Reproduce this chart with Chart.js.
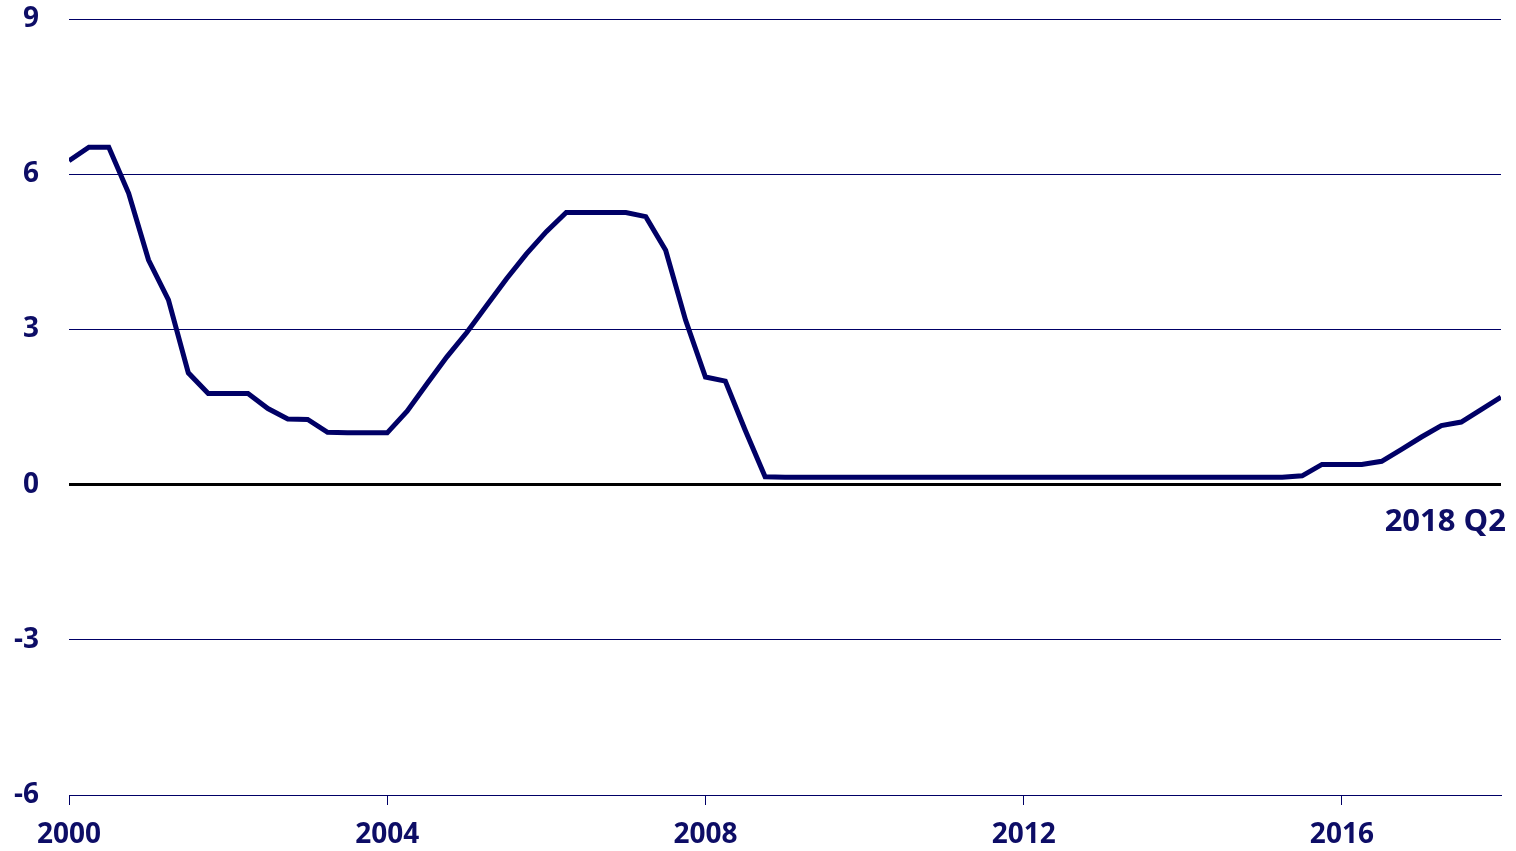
<!DOCTYPE html>
<html>
<head>
<meta charset="utf-8">
<script src="https://cdn.jsdelivr.net/npm/chart.js@4/dist/chart.umd.min.js"></script>
<style>
html,body{margin:0;padding:0;background:#fff;}
#wrap{width:1516px;height:851px;position:relative;}
</style>
</head>
<body>
<div id="wrap"><canvas id="c" width="1516" height="851"></canvas></div>
<script>
// Quarterly series from 2000 Q2 to 2018 Q2
const startYear = 2000;
const values = [
  6.26, 6.52, 6.52, 5.63, 4.34, 3.57, 2.16, 1.76, 1.76, 1.76,
  1.47, 1.27, 1.26, 1.01, 1.00, 1.00, 1.00, 1.42, 1.95, 2.47,
  2.94, 3.46, 3.98, 4.46, 4.89, 5.26, 5.26, 5.26, 5.26, 5.18,
  4.53, 3.18, 2.08, 2.00, 1.05, 0.15, 0.14, 0.14, 0.14, 0.14,
  0.14, 0.14, 0.14, 0.14, 0.14, 0.14, 0.14, 0.14, 0.14, 0.14,
  0.14, 0.14, 0.14, 0.14, 0.14, 0.14, 0.14, 0.14, 0.14, 0.14,
  0.14, 0.14, 0.17, 0.39, 0.39, 0.39, 0.45, 0.68, 0.92, 1.14,
  1.21, 1.45, 1.69
];
const yTicks = [-6, -3, 0, 3, 6, 9];
const xTickYears = [2000, 2004, 2008, 2012, 2016];
const endLabel = "2018 Q2";

const NAVY = "#000066";
const TEXT = "#0d0d66";
const FONT = "'Open Sans'";

const points = values.map((v, i) => ({ x: startYear + i / 4, y: v }));

const endLabelPlugin = {
  id: "endLabel",
  afterDraw(chart) {
    const ctx = chart.ctx;
    const ys = chart.scales.y;
    const area = chart.chartArea;
    ctx.save();
    ctx.font = "bold 31px " + FONT;
    ctx.fillStyle = TEXT;
    ctx.textAlign = "right";
    ctx.textBaseline = "middle";
    ctx.fillText(endLabel, area.right + 5, ys.getPixelForValue(0) + 38);
    ctx.restore();
  }
};

new Chart(document.getElementById("c"), {
  type: "line",
  data: {
    datasets: [{
      data: points,
      borderColor: NAVY,
      borderWidth: 5,
      pointRadius: 0,
      tension: 0,
      fill: false,
      borderJoinStyle: "miter"
    }]
  },
  options: {
    responsive: false,
    animation: false,
    events: [],
    layout: { padding: { top: 19, right: 15, left: 0, bottom: 0 } },
    plugins: { legend: { display: false }, tooltip: { enabled: false } },
    scales: {
      x: {
        type: "linear",
        min: 2000,
        max: 2018,
        afterBuildTicks: s => { s.ticks = xTickYears.map(v => ({ value: v })); },
        ticks: {
          color: TEXT,
          font: { family: FONT, weight: "bold", size: 28 },
          padding: 13,
          maxRotation: 0,
          autoSkip: false,
          callback: v => String(v)
        },
        grid: {
          drawOnChartArea: false,
          drawTicks: true,
          tickLength: 10,
          color: NAVY,
          lineWidth: 1
        },
        border: { display: true, color: NAVY, width: 1 },
        afterFit: s => { s.height = 56; s.paddingLeft = 0; s.paddingRight = 0; }
      },
      y: {
        min: -6,
        max: 9,
        afterBuildTicks: s => { s.ticks = yTicks.map(v => ({ value: v })); },
        ticks: {
          color: TEXT,
          font: { family: FONT, weight: "bold", size: 28 },
          padding: 30,
          callback: v => String(v)
        },
        grid: {
          drawTicks: false,
          color: ctx => ctx.tick && ctx.tick.value === 0 ? "#000000" : NAVY,
          lineWidth: ctx => ctx.tick && ctx.tick.value === 0 ? 3 : 1
        },
        border: { display: false },
        afterFit: s => { s.width = 69; s.paddingTop = 0; s.paddingBottom = 0; }
      }
    }
  },
  plugins: [endLabelPlugin]
});
</script>
</body>
</html>
